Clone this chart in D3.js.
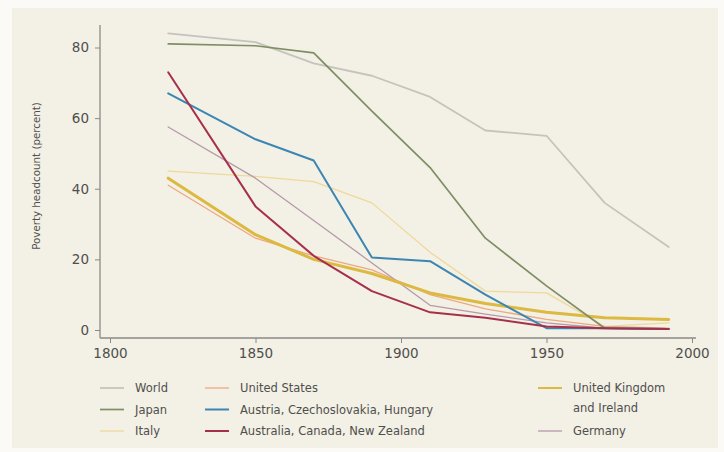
<!DOCTYPE html>
<html><head><meta charset="utf-8">
<script src="https://cdn.jsdelivr.net/npm/d3@7"></script>
<style>html,body{margin:0;padding:0;background:#f8f6f0;}svg{display:block;}</style>
</head><body>
<script>
const years = [1820, 1850, 1870, 1890, 1910, 1929, 1950, 1970, 1992];
const seriesNames = ["World", "Japan", "Italy", "United States", "Austria, Czechoslovakia, Hungary", "Australia, Canada, New Zealand", "United Kingdom and Ireland", "Germany"];
const world     = [84, 81.5, 75.5, 72, 66, 56.5, 55, 36, 23.5];
const japan     = [81, 80.5, 78.5, 62, 46, 26, 12.5, 0.5, 0.3];
const italy     = [45, 43.5, 42, 36, 22, 11, 10.5, 1, 2];
const us        = [41, 26, 21, 17, 10, 6, 3, 1, 0.5];
const austria   = [67, 54, 48, 20.5, 19.5, 10, 0.5, 0.5, 0.3];
const australia = [73, 35, 21, 11, 5, 3.5, 1, 0.5, 0.3];
const uk        = [43, 27, 20, 16, 10.5, 7.5, 5, 3.5, 3];
const germany   = [57.5, 43, 31, 19, 7, 4.5, 2, 0.5, 0.3];
const xTicks = [1800, 1850, 1900, 1950, 2000];
const yTicks = [0, 20, 40, 60, 80];

const W = 724, H = 452;
const svg = d3.select("body").append("svg").attr("width", W).attr("height", H);
svg.append("rect").attr("x", 0).attr("y", 0).attr("width", W).attr("height", H).attr("fill", "#fbfaf6");
svg.append("rect").attr("x", 12).attr("y", 8).attr("width", 706).attr("height", 440).attr("fill", "#f3f0e5");

const x = d3.scaleLinear().domain([1800, 2000]).range([110, 692]);
const y = d3.scaleLinear().domain([0, 80]).range([330, 47.5]);

const axisColor = "#8a8a86", textColor = "#4f4f4d";
const yAxis = svg.append("g").attr("transform", "translate(100,0)")
  .call(d3.axisLeft(y).tickValues(yTicks).tickSize(5).tickPadding(6));
yAxis.select(".domain").remove();
yAxis.append("line").attr("x1", 0).attr("x2", 0).attr("y1", 25).attr("y2", 338).attr("stroke", axisColor).attr("stroke-width", 1.3);
const xAxis = svg.append("g").attr("transform", "translate(0,338)")
  .call(d3.axisBottom(x).tickValues(xTicks).tickFormat(d3.format("d")).tickSize(5).tickPadding(5));
xAxis.select(".domain").remove();
xAxis.append("line").attr("x1", 100).attr("x2", 696).attr("y1", 0).attr("y2", 0).attr("stroke", axisColor).attr("stroke-width", 1.3);
[yAxis, xAxis].forEach(g => {
  g.selectAll(".tick line").attr("stroke", axisColor);
  g.selectAll(".tick text").attr("fill", textColor).attr("font-family", "DejaVu Sans").attr("font-size", 13.5);
});

svg.append("text").attr("transform", "translate(40,176) rotate(-90)")
  .attr("text-anchor", "middle").attr("fill", textColor)
  .attr("font-family", "DejaVu Sans").attr("font-size", 10.3)
  .text("Poverty headcount (percent)");

const series = [
  {name: seriesNames[0], values: world, color: "#c6c3bd", w: 1.8},
  {name: seriesNames[2], values: italy, color: "#efd99a", w: 1.3},
  {name: seriesNames[3], values: us, color: "#eea880", w: 1.3},
  {name: seriesNames[7], values: germany, color: "#b59aa9", w: 1.3},
  {name: seriesNames[6], values: uk, color: "#dcb940", w: 3},
  {name: seriesNames[1], values: japan, color: "#7f8e63", w: 1.7},
  {name: seriesNames[4], values: austria, color: "#3b86b3", w: 2},
  {name: seriesNames[5], values: australia, color: "#a63049", w: 2},
];
const line = d3.line().x((d, i) => x(years[i])).y(d => y(d));
series.forEach(s => {
  svg.append("path").datum(s.values).attr("d", line)
    .attr("fill", "none").attr("stroke", s.color).attr("stroke-width", s.w)
    .attr("stroke-linejoin", "round").attr("stroke-linecap", "round");
});

const byName = Object.fromEntries(series.map(s => [s.name, s]));
const legendItems = [
  {name: "World", col: 0, row: 0, lines: ["World"]},
  {name: "Japan", col: 0, row: 1, lines: ["Japan"]},
  {name: "Italy", col: 0, row: 2, lines: ["Italy"]},
  {name: "United States", col: 1, row: 0, lines: ["United States"]},
  {name: "Austria, Czechoslovakia, Hungary", col: 1, row: 1, lines: ["Austria, Czechoslovakia, Hungary"]},
  {name: "Australia, Canada, New Zealand", col: 1, row: 2, lines: ["Australia, Canada, New Zealand"]},
  {name: "United Kingdom and Ireland", col: 2, row: 0, lines: ["United Kingdom", "and Ireland"]},
  {name: "Germany", col: 2, row: 2, lines: ["Germany"]},
];
const colX = [100, 205, 538], rowY = [388, 409.5, 431];
const leg = svg.append("g");
legendItems.forEach(it => {
  const s = byName[it.name];
  const lx = colX[it.col], ly = rowY[it.row];
  leg.append("line").attr("x1", lx).attr("x2", lx + 24).attr("y1", ly).attr("y2", ly)
    .attr("stroke", s.color).attr("stroke-width", Math.min(s.w, 2));
  const t = leg.append("text").attr("x", lx + 35).attr("y", ly + 4)
    .attr("fill", textColor).attr("font-family", "DejaVu Sans").attr("font-size", 11.5);
  it.lines.forEach((l, k) => t.append("tspan").attr("x", lx + 35).attr("dy", k === 0 ? 0 : 20).text(l));
});
</script>
</body></html>
